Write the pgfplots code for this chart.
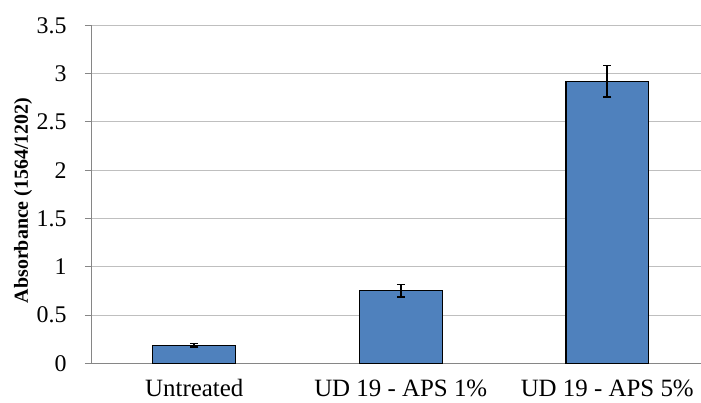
\documentclass[border=0pt]{standalone}
\usepackage{pgfplots}
\pgfplotsset{compat=1.18}
\usepackage{fontspec}
\setmainfont{Liberation Serif}
\definecolor{barblue}{HTML}{4F81BD}
\definecolor{axgray}{HTML}{868686}
\definecolor{gridgray}{HTML}{BFBFBF}
\begin{document}
\begin{tikzpicture}
\pgfplotstableread{
x y err
0 0.186 0.018
1 0.752 0.065
2 2.922 0.162
}\datatab
\begin{axis}[
  scale only axis,
  width=610bp, height=338bp,
  xmin=-0.5, xmax=2.454,
  ymin=0, ymax=3.5,
  ytick={0,0.5,...,3.5},
  xtick={0,1,2},
  xticklabels={Untreated, UD 19 - APS 1\%, UD 19 - APS 5\%},
  extra x ticks={-0.5,0.5,1.5},
  extra x tick labels={},
  extra x tick style={major tick length=7bp, tick style={axgray, line width=0.8pt}, grid=none},
  x tick style={draw=none},
  axis x line*=bottom,
  axis y line*=left,
  axis line style={axgray, line width=0.8pt, -},
  y tick style={axgray, line width=0.8pt},
  tick align=outside,
  major tick length=6bp,
  ymajorgrids,
  grid style={gridgray, line width=0.9pt},
  /pgf/number format/assume math mode=true,
  yticklabel style={font=\fontsize{24}{26}\selectfont, xshift=-15bp},
  xticklabel style={font=\fontsize{25}{27}\selectfont, inner sep=0pt, yshift=-10bp},
  ylabel={\textbf{Absorbance (1564/1202)}},
  ylabel style={font=\fontsize{20}{22}\selectfont, at={(axis description cs:-0.1115,0.482)}, anchor=center},
]
\addplot[ybar, bar width=0.40, fill=barblue, draw=black, line width=1.1pt,
  error bars/.cd, y dir=both, y explicit,
  error bar style={black, line width=1.8pt},
  error mark options={black, line width=1.8pt, mark size=4bp, rotate=90}]
  table[x=x, y=y, y error=err] {\datatab};
\end{axis}
\pgfresetboundingbox
\path[use as bounding box] ([xshift=-91bp,yshift=-39.7bp]current axis.south west) rectangle ++(701bp,403bp);
\end{tikzpicture}
\end{document}
